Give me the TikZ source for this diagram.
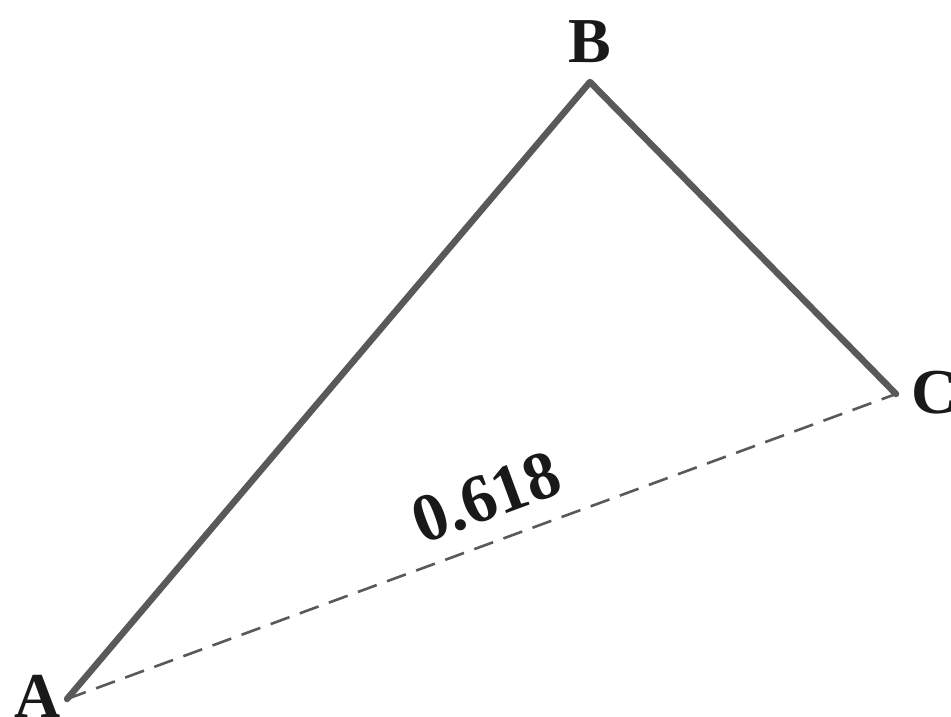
\documentclass[tikz,border=0pt]{standalone}
\usepackage{fontspec}
\setmainfont{Liberation Serif}
\begin{document}
\begin{tikzpicture}[x=1pt,y=-1pt,
  side/.style={draw=black!65, line width=6.5pt, line cap=round, line join=round},
  ratio/.style={draw=black!65, line width=2.6pt, dash pattern=on 20pt off 11pt},
  vlabel/.style={font=\fontsize{64}{64}\selectfont\bfseries, text=black!90, inner sep=0pt}]
\useasboundingbox (0,0) rectangle (951,716);
\coordinate (A) at (67,699);
\coordinate (B) at (590,82);
\coordinate (C) at (896,394);
\draw[ratio] (A) -- (C);
\draw[side] (A) -- (B) -- (C);
\node[vlabel, anchor=base] (la) at (38,717) {A};
\node[vlabel, anchor=base] (lb) at (590,62) {B};
\node[vlabel, anchor=base west] (lc) at (911,413) {C};
\node[vlabel, font=\fontsize{68}{68}\selectfont\bfseries, rotate=20.3, anchor=base] (lr) at (494,518) {0.618};
\end{tikzpicture}
\end{document}
